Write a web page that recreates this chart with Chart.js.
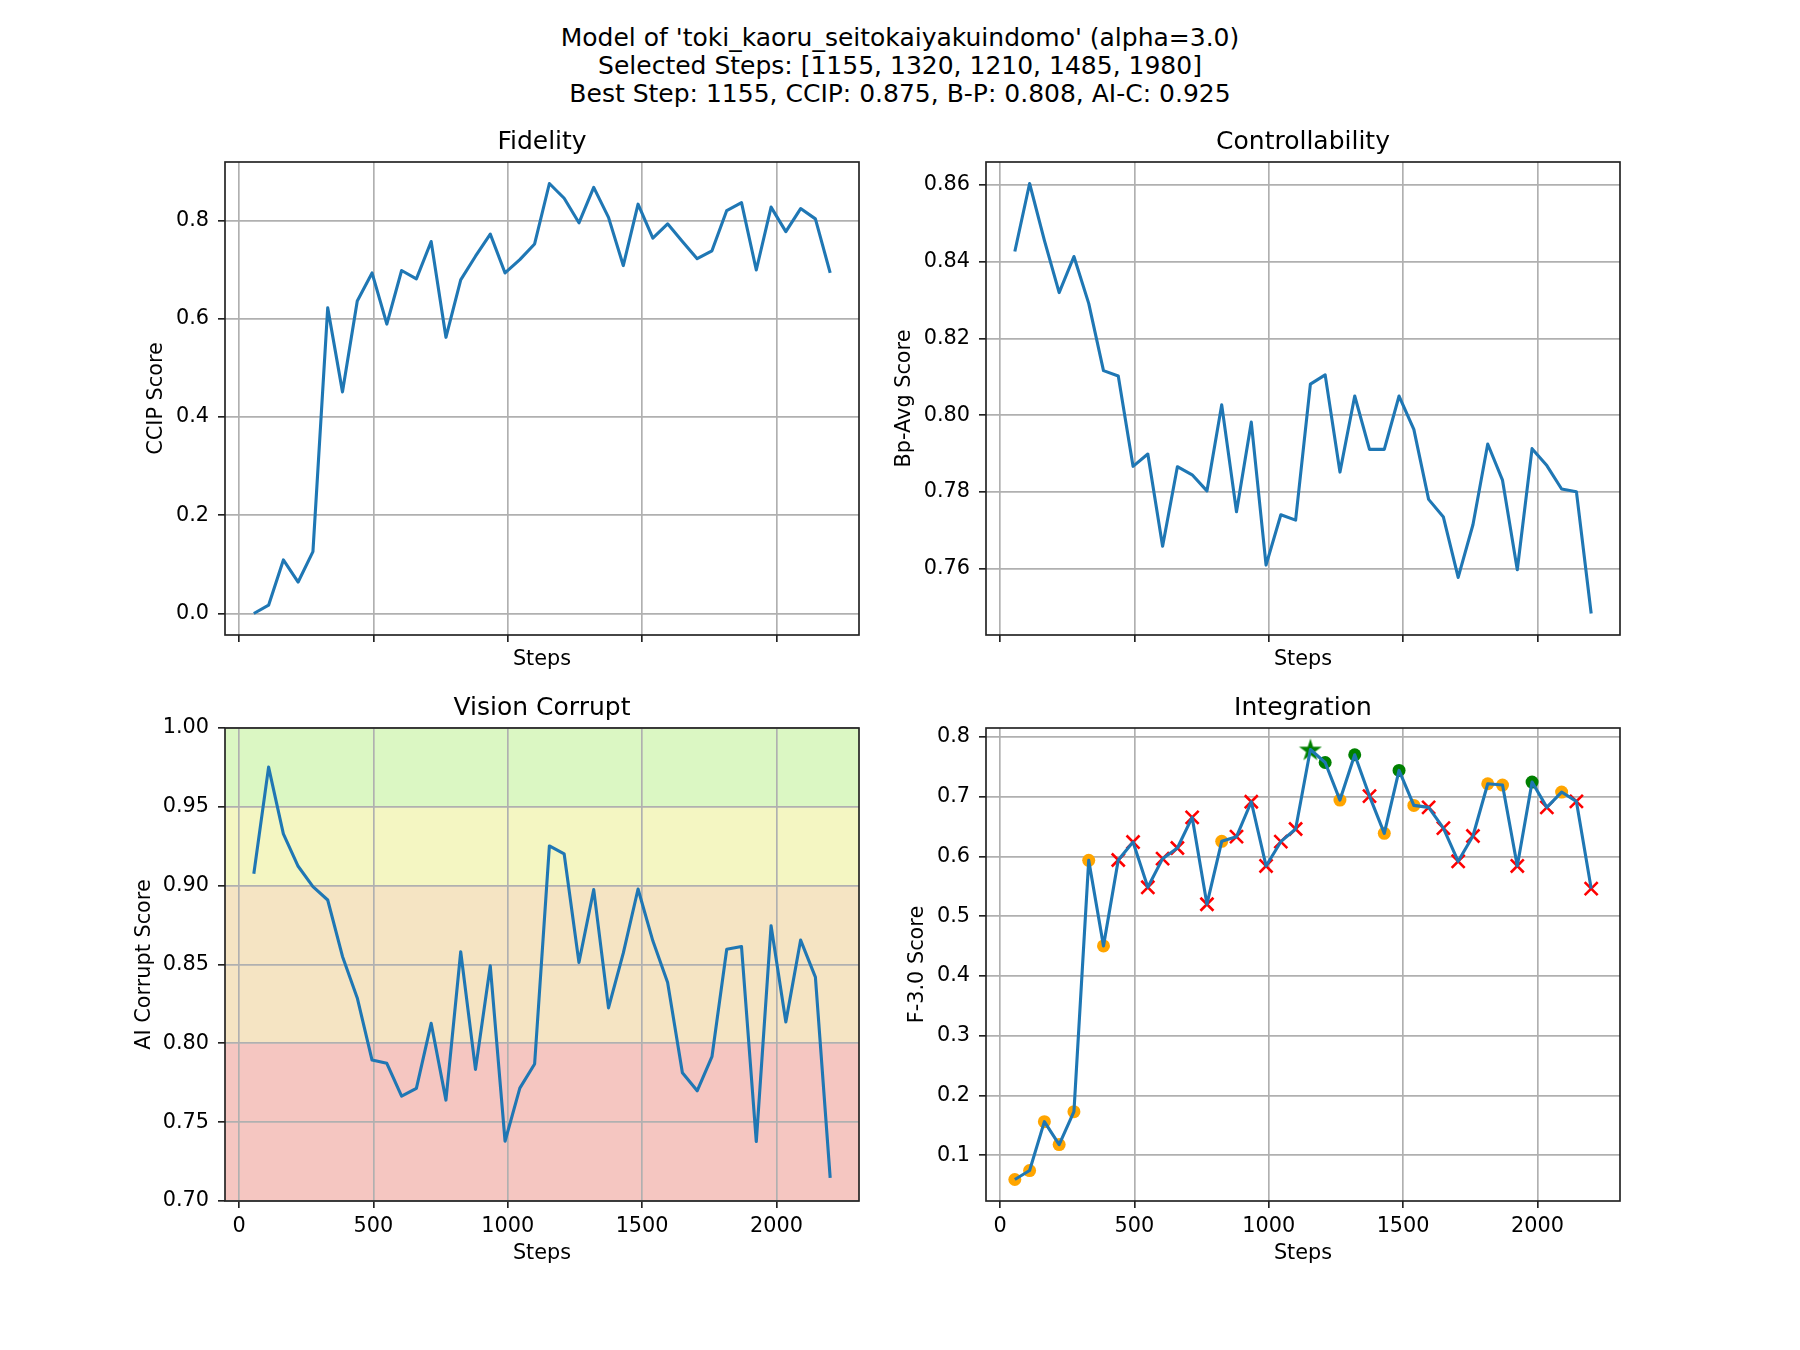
<!DOCTYPE html>
<html>
<head>
<meta charset="utf-8">
<script src="https://cdn.jsdelivr.net/npm/chart.js@4.4.0/dist/chart.umd.min.js"></script>
<style>
  body { margin: 0; background: #fff; }
  #fig { position: relative; width: 1800px; height: 1350px; overflow: hidden; background: #fff; }
  #suptitle {
    position: absolute; left: 0; top: 24px; width: 1800px; text-align: center;
    font-family: 'DejaVu Sans', sans-serif; font-size: 25px; line-height: 28px; color: #000;
  }
  canvas { position: absolute; }
</style>
</head>
<body>
<div id="fig">
  <div id="suptitle">Model of 'toki_kaoru_seitokaiyakuindomo' (alpha=3.0)<br>Selected Steps: [1155, 1320, 1210, 1485, 1980]<br>Best Step: 1155, CCIP: 0.875, B-P: 0.808, AI-C: 0.925</div>
  <canvas id="fidelity"></canvas>
  <canvas id="control"></canvas>
  <canvas id="corrupt"></canvas>
  <canvas id="integration"></canvas>
</div>
<script>
// data
const steps = [55, 110, 165, 220, 275, 330, 385, 440, 495, 550, 605, 660, 715, 770, 825, 880, 935, 990, 1045, 1100,
  1155, 1210, 1265, 1320, 1375, 1430, 1485, 1540, 1595, 1650, 1705, 1760, 1815, 1870, 1925, 1980, 2035, 2090, 2145, 2200];

const ccip = [0.000, 0.017, 0.109, 0.064, 0.126, 0.622, 0.451, 0.636, 0.693, 0.589, 0.698, 0.681, 0.757, 0.562, 0.679, 0.727, 0.772, 0.693, 0.720, 0.752,
  0.875, 0.845, 0.795, 0.867, 0.806, 0.708, 0.833, 0.764, 0.793, 0.757, 0.722, 0.738, 0.820, 0.836, 0.699, 0.827, 0.777, 0.824, 0.803, 0.693];

const bpAvg = [0.8426, 0.8603, 0.8455, 0.8319, 0.8413, 0.8291, 0.8116, 0.8102, 0.7867, 0.7899, 0.7659, 0.7866, 0.7845, 0.7803, 0.8027, 0.7749, 0.7982, 0.7610, 0.7741, 0.7727,
  0.8081, 0.8105, 0.7852, 0.8050, 0.7911, 0.7911, 0.8050, 0.7963, 0.7781, 0.7735, 0.7578, 0.7715, 0.7925, 0.7831, 0.7598, 0.7913, 0.7869, 0.7808, 0.7801, 0.7484];

const aiCorrupt = [0.9076, 0.9752, 0.9328, 0.9123, 0.8994, 0.8909, 0.8551, 0.8288, 0.7894, 0.7873, 0.7665, 0.7714, 0.8127, 0.7640, 0.8581, 0.7835, 0.8492, 0.7379, 0.7716, 0.7869,
  0.9252, 0.9201, 0.8513, 0.8975, 0.8225, 0.8572, 0.8979, 0.8650, 0.8386, 0.7814, 0.7699, 0.7915, 0.8597, 0.8614, 0.7377, 0.8746, 0.8136, 0.8655, 0.8420, 0.7146];

const f3Score = [0.0595, 0.0745, 0.1563, 0.1179, 0.1730, 0.5934, 0.4503, 0.5940, 0.6240, 0.5483, 0.5962, 0.6140, 0.6653, 0.5200, 0.6252, 0.6330, 0.6914, 0.5840, 0.6246, 0.6458,
  0.7788, 0.7571, 0.6942, 0.7700, 0.7009, 0.6385, 0.7438, 0.6853, 0.6820, 0.6474, 0.5918, 0.6341, 0.7215, 0.7193, 0.5840, 0.7243, 0.6820, 0.7076, 0.6920, 0.5461];

// 'o' = orange dot, 'x' = red cross (selected steps are marked green)
const markKind = ['o', 'o', 'o', 'o', 'o', 'o', 'o', 'x', 'x', 'x', 'x', 'x', 'x', 'x', 'o', 'x', 'x', 'x', 'x', 'x',
  'o', 'o', 'o', 'o', 'x', 'o', 'o', 'o', 'x', 'x', 'x', 'x', 'o', 'o', 'x', 'o', 'x', 'o', 'x', 'x'];
const selectedSteps = [1155, 1320, 1210, 1485, 1980];
const bestStep = 1155;

const xTicks = [0, 500, 1000, 1500, 2000];
const ccipTicks = [0.0, 0.2, 0.4, 0.6, 0.8];
const bpTicks = [0.76, 0.78, 0.80, 0.82, 0.84, 0.86];
const aiTicks = [0.70, 0.75, 0.80, 0.85, 0.90, 0.95, 1.00];
const f3Ticks = [0.1, 0.2, 0.3, 0.4, 0.5, 0.6, 0.7, 0.8];

const bandFrom = [0.95, 0.90, 0.80, 0.70];
const bandTo = [1.00, 0.95, 0.90, 0.80];
const bandColors = ['#dbf7c3', '#f4f6c2', '#f5e4c3', '#f5c6c1'];

const FONT = "'DejaVu Sans', sans-serif";
const LINE = '#1f77b4';
const AX_W = 634, AX_H = 473, PAD_L = 130, PAD_T = 50, PAD_R = 30, PAD_B = 80;

const xMin = steps[0] - 0.05 * (steps[steps.length - 1] - steps[0]);
const xMax = steps[steps.length - 1] + 0.05 * (steps[steps.length - 1] - steps[0]);

function autoRange(vals) {
  const lo = Math.min(...vals), hi = Math.max(...vals);
  const m = 0.05 * (hi - lo);
  return [lo - m, hi + m];
}

function starImage(size, color) {
  const c = document.createElement('canvas');
  c.width = size; c.height = size;
  const g = c.getContext('2d');
  const r = size / 2, ri = r * 0.382;
  g.beginPath();
  for (let i = 0; i < 10; i++) {
    const a = -Math.PI / 2 + i * Math.PI / 5;
    const rr = i % 2 === 0 ? r : ri;
    const px = r + rr * Math.cos(a), py = r + rr * Math.sin(a) + 1;
    if (i === 0) g.moveTo(px, py); else g.lineTo(px, py);
  }
  g.closePath();
  g.fillStyle = color;
  g.fill();
  return c;
}

const bandsPlugin = {
  id: 'bands',
  beforeDraw(chart) {
    if (!chart.options.plugins.bands || !chart.options.plugins.bands.on) return;
    const { ctx, chartArea, scales } = chart;
    ctx.save();
    for (let i = 0; i < bandFrom.length; i++) {
      const y1 = scales.y.getPixelForValue(bandTo[i]);
      const y2 = scales.y.getPixelForValue(bandFrom[i]);
      ctx.fillStyle = bandColors[i];
      ctx.fillRect(chartArea.left, y1, chartArea.right - chartArea.left, y2 - y1);
    }
    ctx.restore();
  }
};

const framePlugin = {
  id: 'frame',
  afterDraw(chart) {
    const { ctx, chartArea } = chart;
    ctx.save();
    ctx.strokeStyle = '#222';
    ctx.lineWidth = 1.67;
    ctx.strokeRect(chartArea.left, chartArea.top, chartArea.right - chartArea.left, chartArea.bottom - chartArea.top);
    ctx.restore();
  }
};

function lineSet(vals) {
  return {
    data: steps.map((s, i) => ({ x: s, y: vals[i] })),
    borderColor: LINE,
    borderWidth: 3.1,
    borderJoinStyle: 'round',
    pointRadius: 0,
    tension: 0,
    order: 0
  };
}

function makeChart(id, axLeft, axTop, p) {
  const el = document.getElementById(id);
  el.width = PAD_L + AX_W + PAD_R;
  el.height = PAD_T + AX_H + PAD_B;
  el.style.left = (axLeft - PAD_L) + 'px';
  el.style.top = (axTop - PAD_T) + 'px';

  const tickFont = { family: FONT, size: 20.8 };
  const grid = { color: '#b0b0b0', lineWidth: 1.67, tickColor: '#222', tickLength: 7, tickWidth: 1.67 };

  return new Chart(el, {
    type: 'line',
    data: { datasets: p.datasets },
    options: {
      responsive: false,
      animation: false,
      devicePixelRatio: 1,
      layout: { padding: { left: 0, top: 0, right: PAD_R, bottom: 0 }, autoPadding: false },
      plugins: {
        legend: { display: false },
        tooltip: { enabled: false },
        bands: { on: !!p.bands },
        title: {
          display: true, text: p.title, fullSize: false, color: '#000',
          font: { family: FONT, size: 25, weight: 'normal' },
          padding: { top: 15, bottom: 5 }
        }
      },
      scales: {
        x: {
          type: 'linear', min: xMin, max: xMax,
          afterFit: (s) => { s.height = PAD_B; },
          afterBuildTicks: (s) => { s.ticks = xTicks.map((v) => ({ value: v })); },
          border: { display: false },
          grid,
          ticks: {
            display: p.xLabels, maxRotation: 0, autoSkip: false,
            color: '#000', font: tickFont, padding: 6,
            callback: (v) => String(Math.round(v))
          },
          title: {
            display: true, text: 'Steps', color: '#000', font: tickFont,
            padding: { top: 0, bottom: p.xTitlePad }
          }
        },
        y: {
          type: 'linear', min: p.yRange[0], max: p.yRange[1],
          afterFit: (s) => { s.width = PAD_L; },
          afterBuildTicks: (s) => { s.ticks = p.yTicks.map((v) => ({ value: v })); },
          border: { display: false },
          grid,
          ticks: {
            autoSkip: false,
            color: '#000', font: tickFont, padding: 9,
            callback: (v) => v.toFixed(p.yDec)
          },
          title: {
            display: true, text: p.yTitle, color: '#000', font: tickFont,
            padding: { top: p.yTitlePad, bottom: 0 }
          }
        }
      }
    },
    plugins: [bandsPlugin, framePlugin]
  });
}

makeChart('fidelity', 225, 162, {
  title: 'Fidelity', yTitle: 'CCIP Score', yTitlePad: 49.5, xTitlePad: 42.5, xLabels: false,
  yRange: autoRange(ccip), yTicks: ccipTicks, yDec: 1,
  datasets: [lineSet(ccip)]
});

makeChart('control', 986, 162, {
  title: 'Controllability', yTitle: 'Bp-Avg Score', yTitlePad: 36.5, xTitlePad: 42.5, xLabels: false,
  yRange: autoRange(bpAvg), yTicks: bpTicks, yDec: 2,
  datasets: [lineSet(bpAvg)]
});

makeChart('corrupt', 225, 728, {
  title: 'Vision Corrupt', yTitle: 'AI Corrupt Score', yTitlePad: 37.5, xTitlePad: 15, xLabels: true,
  yRange: [0.70, 1.00], yTicks: aiTicks, yDec: 2, bands: true,
  datasets: [lineSet(aiCorrupt)]
});

function pick(test) {
  const out = [];
  steps.forEach((s, i) => { if (test(s, i)) out.push({ x: s, y: f3Score[i] }); });
  return out;
}
const isSel = (s) => selectedSteps.includes(s);

makeChart('integration', 986, 728, {
  title: 'Integration', yTitle: 'F-3.0 Score', yTitlePad: 49.5, xTitlePad: 15, xLabels: true,
  yRange: autoRange(f3Score), yTicks: f3Ticks, yDec: 1,
  datasets: [
    lineSet(f3Score),
    { data: pick((s, i) => !isSel(s) && markKind[i] === 'o'), showLine: false, pointStyle: 'circle',
      pointRadius: 6.5, pointBackgroundColor: 'orange', pointBorderWidth: 0, order: 1 },
    { data: pick((s, i) => !isSel(s) && markKind[i] === 'x'), showLine: false, pointStyle: 'crossRot',
      pointRadius: 9.2, pointBorderColor: 'red', pointBorderWidth: 2.6, order: 1 },
    { data: pick((s) => isSel(s) && s !== bestStep), showLine: false, pointStyle: 'circle',
      pointRadius: 6.5, pointBackgroundColor: 'green', pointBorderWidth: 0, order: 1 },
    { data: pick((s) => s === bestStep), showLine: false, pointStyle: starImage(24, 'green'),
      pointRadius: 12, order: 1 }
  ]
});
</script>
</body>
</html>
